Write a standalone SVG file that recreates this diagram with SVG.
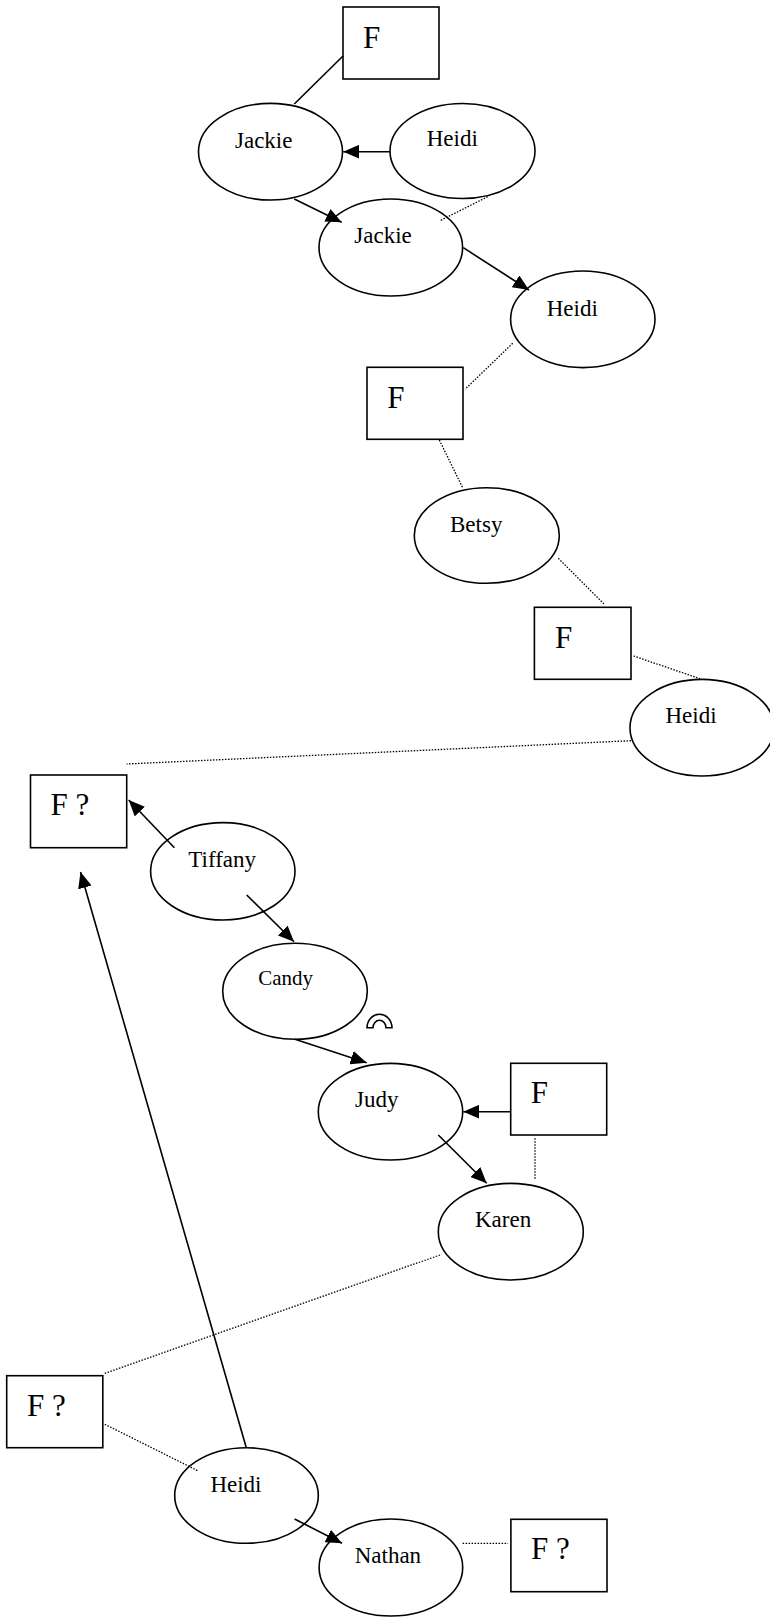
<svg xmlns="http://www.w3.org/2000/svg" width="770" height="1618" viewBox="0 0 770 1618">
<style>
.n{fill:#fff;stroke:#000;stroke-width:1.6}
.t{font-family:"Liberation Serif","Times New Roman",serif;font-size:23px;fill:#000}
.f{font-family:"Liberation Serif","Times New Roman",serif;font-size:31px;fill:#000}
.s{stroke:#000;stroke-width:1.6;fill:none}
.a{stroke:#000;stroke-width:1.6;fill:none;marker-end:url(#ah)}
.d{stroke:#000;stroke-width:1.3;fill:none;stroke-dasharray:1.5 1.5}
</style>
<defs>
<marker id="ah" markerUnits="userSpaceOnUse" markerWidth="16" markerHeight="14" refX="16" refY="7" orient="auto">
<path d="M0,0 L16,7 L0,14 Z" fill="#000"/>
</marker>
</defs>
<g id="f1"><rect class="n" x="343" y="7" width="96" height="72"/><text class="f" x="363" y="48">F</text></g>
<g id="jackie1"><ellipse class="n" cx="270.5" cy="151.7" rx="72" ry="48.3"/><text class="t" x="235" y="147.7">Jackie</text></g>
<g id="heidi1"><ellipse class="n" cx="462.5" cy="151" rx="72.5" ry="47.5"/><text class="t" x="426.7" y="145.7">Heidi</text></g>
<g id="jackie2"><ellipse class="n" cx="390.8" cy="247.5" rx="71.8" ry="48.5"/><text class="t" x="354.3" y="243.3">Jackie</text></g>
<g id="heidi2"><ellipse class="n" cx="582.8" cy="319.3" rx="72.2" ry="48.3"/><text class="t" x="546.7" y="315.7">Heidi</text></g>
<g id="f2"><rect class="n" x="367" y="367.3" width="96" height="72"/><text class="f" x="387.3" y="408.3">F</text></g>
<g id="betsy"><ellipse class="n" cx="486.8" cy="535.5" rx="72.5" ry="47.8"/><text class="t" x="450" y="531.7">Betsy</text></g>
<g id="f3"><rect class="n" x="534.4" y="607.3" width="96.6" height="72"/><text class="f" x="555" y="647.7">F</text></g>
<g id="heidi3"><ellipse class="n" cx="702" cy="727.7" rx="72" ry="48.3"/><text class="t" x="665.5" y="723.3">Heidi</text></g>
<g id="fq1"><rect class="n" x="30.5" y="775" width="96.2" height="72.7"/><text class="f" x="50.6" y="815">F ?</text></g>
<g id="tiffany"><ellipse class="n" cx="222.8" cy="871.3" rx="72.2" ry="48.7"/><text class="t" x="188.3" y="867.3">Tiffany</text></g>
<g id="candy"><ellipse class="n" cx="295" cy="991.3" rx="72.3" ry="48"/><text class="t" x="258.3" y="985" style="font-size:21px">Candy</text></g>
<g id="arch"><path class="n" d="M367,1027.8 A12.5,13.5 0 0 1 392,1027.8 L386,1027.8 A6.5,7.5 0 0 0 373,1027.8 Z"/></g>
<g id="judy"><ellipse class="n" cx="390.5" cy="1111.7" rx="72.2" ry="48.3"/><text class="t" x="355" y="1106.7">Judy</text></g>
<g id="f4"><rect class="n" x="510.7" y="1063.3" width="96" height="71.7"/><text class="f" x="530.7" y="1103.3">F</text></g>
<g id="karen"><ellipse class="n" cx="510.8" cy="1231.7" rx="72.5" ry="48.3"/><text class="t" x="475" y="1227.3">Karen</text></g>
<g id="fq2"><rect class="n" x="6.7" y="1375.7" width="96.1" height="72"/><text class="f" x="26.9" y="1416">F ?</text></g>
<g id="heidi4"><ellipse class="n" cx="246.5" cy="1495.5" rx="71.8" ry="47.8"/><text class="t" x="210.4" y="1491.7">Heidi</text></g>
<g id="nathan"><ellipse class="n" cx="390.9" cy="1567.5" rx="71.8" ry="48.5"/><text class="t" x="354.7" y="1563.3">Nathan</text></g>
<g id="fq3"><rect class="n" x="510.9" y="1519.3" width="96.1" height="72.4"/><text class="f" x="531" y="1559.3">F ?</text></g>
<g id="connectors">
<line class="s" x1="343" y1="56" x2="294.3" y2="104"/>
<line class="a" x1="390" y1="151.7" x2="343.3" y2="151.7"/>
<line class="a" x1="294.3" y1="199" x2="341.7" y2="222.3"/>
<line class="a" x1="463.3" y1="247.7" x2="529" y2="290"/>
<line class="d" x1="487.7" y1="196.7" x2="440" y2="220.7"/>
<line class="d" x1="512.7" y1="343.3" x2="465" y2="389.3"/>
<line class="d" x1="439.3" y1="440" x2="462.7" y2="487.7"/>
<line class="d" x1="558.3" y1="558.3" x2="605" y2="605"/>
<line class="d" x1="633.6" y1="656" x2="700" y2="678.7"/>
<line class="d" x1="631" y1="740.7" x2="126.7" y2="764"/>
<line class="a" x1="174.4" y1="847.7" x2="128.7" y2="800"/>
<line class="a" x1="246.7" y1="895" x2="294" y2="941.7"/>
<line class="a" x1="295" y1="1039.3" x2="366.7" y2="1062.7"/>
<line class="a" x1="510.7" y1="1111.7" x2="463.3" y2="1111.7"/>
<line class="a" x1="438.3" y1="1135" x2="486.7" y2="1183.3"/>
<line class="d" x1="535" y1="1138.3" x2="535" y2="1180"/>
<line class="d" x1="440" y1="1255" x2="104.8" y2="1373.3"/>
<line class="d" x1="104.8" y1="1424.3" x2="197.7" y2="1470.7"/>
<line class="a" x1="246.3" y1="1447.7" x2="80.5" y2="872"/>
<line class="a" x1="294.6" y1="1519" x2="342" y2="1543.3"/>
<line class="d" x1="462.6" y1="1543.3" x2="508.1" y2="1543.3"/>
</g>
</svg>
